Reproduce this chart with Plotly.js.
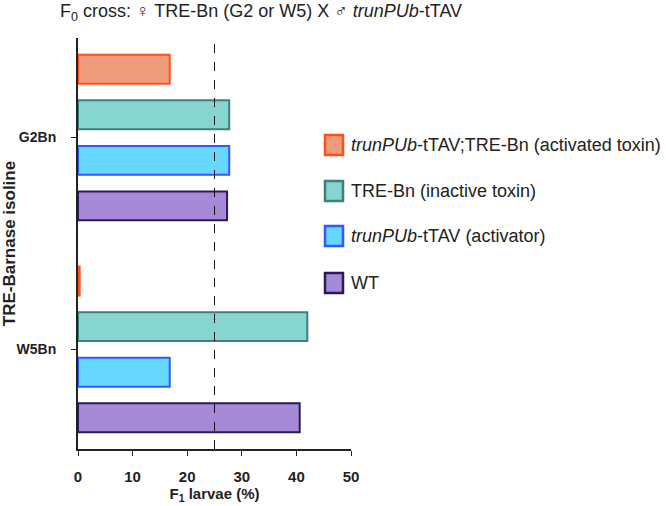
<!DOCTYPE html>
<html>
<head>
<meta charset="utf-8">
<script src="https://cdn.plot.ly/plotly-3.0.1.min.js"></script>
<style>
  html, body { margin: 0; padding: 0; background: #fff; }
  #chart { width: 666px; height: 506px; }
</style>
</head>
<body>
<div id="chart"></div>
<script>
// TRE-Barnase isolines (categories on the y axis)
const isolines = ['G2Bn', 'W5Bn'];

// F1 larvae (%) per genotype, one value per isoline
const seriesNames = [
  '<i>trunPUb</i>-tTAV;TRE-Bn (activated toxin)',
  'TRE-Bn (inactive toxin)',
  '<i>trunPUb</i>-tTAV (activator)',
  'WT'
];
const activatedToxin = [16.8, 0.3];
const inactiveToxin  = [27.7, 42.0];
const activator      = [27.7, 16.8];
const wildType       = [27.3, 40.6];

// Expected Mendelian proportion
const expectedPct = 25;

const xTicks = [0, 10, 20, 30, 40, 50];

const FONT = 'Arial, "Liberation Sans", sans-serif';
const fills   = ['#EE9C7C', '#86D5CF', '#66D8FF', '#A68AD8'];
const borders = ['#FF5018', '#3F7F7E', '#3458FF', '#2A1A58'];
const values  = [activatedToxin, inactiveToxin, activator, wildType];

const traces = values.map((v, i) => ({
  type: 'bar',
  orientation: 'h',
  y: isolines,
  x: v,
  name: seriesNames[i],
  marker: { color: fills[i], line: { color: borders[i], width: 2 } },
  hoverinfo: 'x+name',
  showlegend: false
}));

// Layout geometry (pixels)
const W = 666, H = 506;
const M = { l: 78, r: 315, t: 38, b: 57 };
const plotW = W - M.l - M.r, plotH = H - M.t - M.b;
const px = x => (x - M.l) / plotW;
const py = y => 1 - (y - M.t) / plotH;

// Hand-placed legend: square swatch + label per series
const legendRows = [145, 191, 236, 283];
const shapes = [{
  type: 'line', xref: 'x', yref: 'paper',
  x0: expectedPct, x1: expectedPct, y0: 0, y1: 1,
  line: { color: '#111', width: 1, dash: 'dash' }
}];
const annotations = [];
legendRows.forEach((yc, i) => {
  shapes.push({
    type: 'rect', xref: 'paper', yref: 'paper',
    x0: px(325), x1: px(343), y0: py(yc + 10), y1: py(yc - 10),
    fillcolor: fills[i], line: { color: borders[i], width: 2.5 }
  });
  annotations.push({
    xref: 'paper', yref: 'paper', x: px(349), y: py(yc),
    xanchor: 'left', yanchor: 'middle', showarrow: false,
    text: seriesNames[i],
    font: { family: FONT, size: 18, color: '#222' }
  });
});

// Chart heading
annotations.push({
  xref: 'paper', yref: 'paper', x: px(58), y: py(13),
  xanchor: 'left', yanchor: 'middle', showarrow: false,
  text: 'F<sub>0</sub> cross: \u2640 TRE-Bn (G2 or W5) X \u2642 <i>trunPUb</i>-tTAV',
  font: { family: FONT, size: 18, color: '#222' }
});

const layout = {
  width: W, height: H,
  margin: M,
  paper_bgcolor: '#fff', plot_bgcolor: '#fff',
  barmode: 'group',
  bargap: 0.14,
  bargroupgap: 0.365,
  showlegend: false,
  xaxis: {
    range: [0, 50],
    tickvals: xTicks,
    ticktext: xTicks.map(String),
    ticks: 'outside', ticklen: 5, tickwidth: 1, tickcolor: '#222',
    showline: true, linecolor: '#222', linewidth: 1.5,
    showgrid: false, zeroline: false,
    ticklabelstandoff: 8,
    tickfont: { family: FONT, size: 15, color: '#222', weight: 'bold' },
    title: {
      text: 'F<sub>1</sub> larvae (%)',
      font: { family: FONT, size: 15, color: '#222', weight: 'bold' },
      standoff: 3
    },
    fixedrange: true
  },
  yaxis: {
    type: 'category',
    categoryorder: 'array', categoryarray: isolines,
    range: [1.47, -0.47],
    ticks: 'outside', ticklen: 5, tickwidth: 1, tickcolor: '#222',
    showline: true, linecolor: '#222', linewidth: 2,
    showgrid: false, zeroline: false,
    ticklabelstandoff: 12,
    tickfont: { family: FONT, size: 14, color: '#222', weight: 'bold' },
    title: {
      text: 'TRE-Barnase isoline',
      font: { family: FONT, size: 17, color: '#222', weight: 'bold' },
      standoff: 0
    },
    fixedrange: true
  },
  shapes: shapes,
  annotations: annotations
};

Plotly.newPlot('chart', traces, layout, { displayModeBar: false, staticPlot: true });
</script>
</body>
</html>
